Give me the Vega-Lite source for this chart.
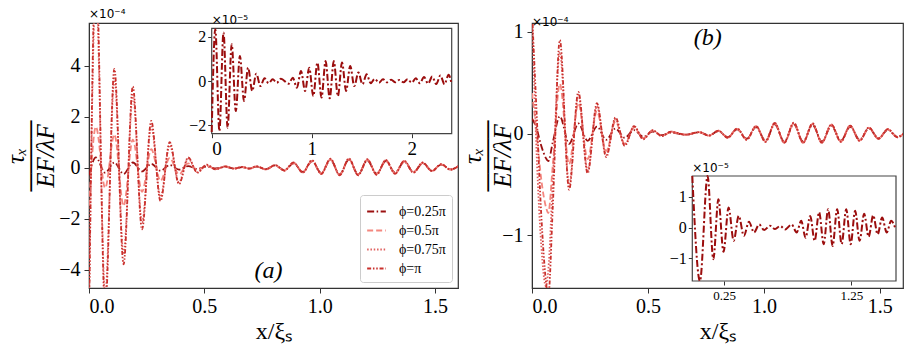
{
"$schema": "https://vega.github.io/schema/vega-lite/v6.json",
"background": "white",
"padding": {"left": 3, "top": 7, "right": 4, "bottom": 2},
"spacing": 74,
"bounds": "flush",
"datasets": {
"A": [
{"x":0,"a":-0.3,"b":-1.5,"c":-5.5,"d":-6},
{"x":0.03,"a":0.4,"b":1.6,"c":7,"d":8},
{"x":0.07,"a":-0.2,"b":-0.8,"c":-5,"d":-5.6},
{"x":0.11,"a":0.2,"b":1.3,"c":3.5,"d":3.87},
{"x":0.15,"a":-0.25,"b":-1.5,"c":-3.4,"d":-3.79},
{"x":0.19,"a":0.2,"b":1.1,"c":2.85,"d":3.18},
{"x":0.23,"a":-0.15,"b":-0.95,"c":-2.15,"d":-2.42},
{"x":0.27,"a":0.15,"b":0.72,"c":1.6,"d":1.83},
{"x":0.31,"a":-0.12,"b":-0.52,"c":-1.15,"d":-1.31},
{"x":0.35,"a":0.1,"b":0.38,"c":0.88,"d":1.0},
{"x":0.39,"a":-0.08,"b":-0.27,"c":-0.57,"d":-0.65},
{"x":0.43,"a":0.06,"b":0.17,"c":0.35,"d":0.4},
{"x":0.47,"a":-0.05,"b":-0.1,"c":-0.18,"d":-0.2},
{"x":0.51,"a":0.04,"b":0.07,"c":0.1,"d":0.12},
{"x":0.55,"a":-0.03,"b":-0.05,"c":-0.06,"d":-0.07},
{"x":0.59,"a":0.03,"b":0.04,"c":0.05,"d":0.05},
{"x":0.63,"a":-0.03,"b":-0.03,"c":-0.04,"d":-0.04},
{"x":0.665,"a":0.02,"b":0.025,"c":0.03,"d":0.03},
{"x":0.695,"a":-0.03,"b":-0.035,"c":-0.04,"d":-0.04},
{"x":0.727,"a":0.04,"b":0.045,"c":0.05,"d":0.05},
{"x":0.767,"a":-0.06,"b":-0.065,"c":-0.07,"d":-0.07},
{"x":0.807,"a":0.085,"b":0.09,"c":0.1,"d":0.1},
{"x":0.847,"a":-0.1,"b":-0.11,"c":-0.12,"d":-0.12},
{"x":0.887,"a":0.17,"b":0.18,"c":0.19,"d":0.2},
{"x":0.927,"a":-0.17,"b":-0.18,"c":-0.19,"d":-0.2},
{"x":0.967,"a":0.25,"b":0.26,"c":0.28,"d":0.29},
{"x":1.007,"a":-0.21,"b":-0.23,"c":-0.24,"d":-0.25},
{"x":1.047,"a":0.3,"b":0.32,"c":0.33,"d":0.35},
{"x":1.087,"a":-0.26,"b":-0.27,"c":-0.29,"d":-0.3},
{"x":1.127,"a":0.31,"b":0.32,"c":0.34,"d":0.36},
{"x":1.167,"a":-0.26,"b":-0.27,"c":-0.29,"d":-0.3},
{"x":1.207,"a":0.28,"b":0.3,"c":0.31,"d":0.33},
{"x":1.247,"a":-0.24,"b":-0.25,"c":-0.27,"d":-0.28},
{"x":1.287,"a":0.26,"b":0.27,"c":0.29,"d":0.3},
{"x":1.327,"a":-0.2,"b":-0.22,"c":-0.23,"d":-0.24},
{"x":1.367,"a":0.23,"b":0.24,"c":0.26,"d":0.27},
{"x":1.407,"a":-0.17,"b":-0.18,"c":-0.19,"d":-0.2},
{"x":1.447,"a":0.17,"b":0.18,"c":0.19,"d":0.2},
{"x":1.487,"a":-0.12,"b":-0.13,"c":-0.13,"d":-0.14},
{"x":1.527,"a":0.12,"b":0.13,"c":0.13,"d":0.14},
{"x":1.567,"a":-0.07,"b":-0.07,"c":-0.08,"d":-0.08},
{"x":1.607,"a":0.09,"b":0.09,"c":0.1,"d":0.1}
],
"B": [
{"x":0,"a":0.15,"b":0.4,"c":1.2,"d":1.2},
{"x":0.02,"a":0.05,"b":0,"c":-0.2,"d":0.2},
{"x":0.04,"a":-0.12,"b":-0.45,"c":-1.1,"d":-0.8},
{"x":0.06,"a":-0.24,"b":-0.72,"c":-1.5,"d":-1.45},
{"x":0.07,"a":-0.27,"b":-0.78,"c":-1.35,"d":-1.6},
{"x":0.09,"a":-0.08,"b":-0.3,"c":-0.45,"d":-0.7},
{"x":0.12,"a":0.17,"b":0.49,"c":0.8,"d":0.92},
{"x":0.16,"a":-0.1,"b":-0.3,"c":-0.5,"d":-0.55},
{"x":0.2,"a":0.1,"b":0.3,"c":0.38,"d":0.41},
{"x":0.24,"a":-0.07,"b":-0.25,"c":-0.36,"d":-0.39},
{"x":0.28,"a":0.07,"b":0.22,"c":0.27,"d":0.3},
{"x":0.32,"a":-0.06,"b":-0.17,"c":-0.21,"d":-0.23},
{"x":0.36,"a":0.05,"b":0.12,"c":0.14,"d":0.16},
{"x":0.4,"a":-0.04,"b":-0.1,"c":-0.11,"d":-0.12},
{"x":0.44,"a":0.035,"b":0.06,"c":0.07,"d":0.075},
{"x":0.48,"a":-0.03,"b":-0.045,"c":-0.05,"d":-0.055},
{"x":0.52,"a":0.02,"b":0.03,"c":0.03,"d":0.035},
{"x":0.56,"a":-0.015,"b":-0.02,"c":-0.02,"d":-0.025},
{"x":0.6,"a":0.01,"b":0.015,"c":0.02,"d":0.02},
{"x":0.66,"a":-0.01,"b":-0.01,"c":-0.01,"d":-0.01},
{"x":0.723,"a":0.013,"b":0.014,"c":0.015,"d":0.015},
{"x":0.763,"a":-0.017,"b":-0.019,"c":-0.02,"d":-0.02},
{"x":0.804,"a":0.025,"b":0.028,"c":0.03,"d":0.03},
{"x":0.844,"a":-0.034,"b":-0.038,"c":-0.04,"d":-0.04},
{"x":0.885,"a":0.042,"b":0.048,"c":0.05,"d":0.05},
{"x":0.926,"a":-0.05,"b":-0.057,"c":-0.06,"d":-0.06},
{"x":0.966,"a":0.065,"b":0.072,"c":0.076,"d":0.076},
{"x":1.007,"a":-0.068,"b":-0.076,"c":-0.08,"d":-0.08},
{"x":1.047,"a":0.09,"b":0.1,"c":0.105,"d":0.105},
{"x":1.088,"a":-0.077,"b":-0.086,"c":-0.09,"d":-0.09},
{"x":1.129,"a":0.092,"b":0.103,"c":0.108,"d":0.108},
{"x":1.169,"a":-0.077,"b":-0.086,"c":-0.09,"d":-0.09},
{"x":1.21,"a":0.085,"b":0.095,"c":0.1,"d":0.1},
{"x":1.25,"a":-0.077,"b":-0.086,"c":-0.09,"d":-0.09},
{"x":1.291,"a":0.077,"b":0.086,"c":0.09,"d":0.09},
{"x":1.332,"a":-0.068,"b":-0.076,"c":-0.08,"d":-0.08},
{"x":1.372,"a":0.068,"b":0.076,"c":0.08,"d":0.08},
{"x":1.413,"a":-0.06,"b":-0.067,"c":-0.07,"d":-0.07},
{"x":1.453,"a":0.051,"b":0.057,"c":0.06,"d":0.06},
{"x":1.494,"a":-0.043,"b":-0.048,"c":-0.05,"d":-0.05},
{"x":1.535,"a":0.038,"b":0.043,"c":0.045,"d":0.045},
{"x":1.575,"a":-0.03,"b":-0.033,"c":-0.035,"d":-0.035},
{"x":1.616,"a":0.026,"b":0.029,"c":0.03,"d":0.03}
],
"IA": [
{"x":0,"v":-2.3},{"x":0.036,"v":2.34},{"x":0.077,"v":-2.26},{"x":0.118,"v":2.19},{"x":0.159,"v":-2.11},{"x":0.2,"v":1.66},{"x":0.241,"v":-1.36},{"x":0.282,"v":1.13},{"x":0.323,"v":-0.9},{"x":0.364,"v":0.6},{"x":0.405,"v":-0.45},{"x":0.446,"v":0.33},{"x":0.487,"v":-0.23},{"x":0.528,"v":0.12},{"x":0.569,"v":-0.1},{"x":0.61,"v":0.08},{"x":0.651,"v":-0.08},{"x":0.692,"v":0.1},{"x":0.77,"v":-0.12},{"x":0.811,"v":0.15},{"x":0.852,"v":-0.3},{"x":0.893,"v":0.45},{"x":0.934,"v":-0.45},{"x":0.975,"v":0.6},{"x":1.016,"v":-0.68},{"x":1.057,"v":0.83},{"x":1.098,"v":-0.75},{"x":1.139,"v":0.9},{"x":1.18,"v":-0.78},{"x":1.221,"v":0.9},{"x":1.262,"v":-0.68},{"x":1.303,"v":0.83},{"x":1.344,"v":-0.45},{"x":1.385,"v":0.68},{"x":1.426,"v":-0.23},{"x":1.467,"v":0.38},{"x":1.508,"v":-0.15},{"x":1.549,"v":0.3},{"x":1.59,"v":-0.1},{"x":1.631,"v":0.1},{"x":1.672,"v":-0.08},{"x":1.713,"v":0.08},{"x":1.754,"v":-0.06},{"x":1.795,"v":0.06},{"x":1.836,"v":-0.06},{"x":1.877,"v":0.05},{"x":1.918,"v":-0.06},{"x":1.959,"v":0.08},{"x":2.0,"v":-0.08},{"x":2.041,"v":0.12},{"x":2.082,"v":-0.1},{"x":2.123,"v":0.18},{"x":2.164,"v":-0.12},{"x":2.205,"v":0.2},{"x":2.246,"v":-0.14},{"x":2.287,"v":0.25},{"x":2.328,"v":-0.15},{"x":2.369,"v":0.28},{"x":2.41,"v":-0.15}
],
"IB": [
{"x":0,"v":1.9},{"x":0.06,"v":-2.2},{"x":0.12,"v":2.2},{"x":0.165,"v":-1.03},{"x":0.205,"v":0.92},{"x":0.245,"v":-0.79},{"x":0.285,"v":0.65},{"x":0.325,"v":-0.43},{"x":0.365,"v":0.38},{"x":0.405,"v":-0.27},{"x":0.445,"v":0.19},{"x":0.485,"v":-0.16},{"x":0.525,"v":0.1},{"x":0.565,"v":-0.08},{"x":0.61,"v":0.06},{"x":0.65,"v":-0.05},{"x":0.69,"v":0.05},{"x":0.73,"v":-0.06},{"x":0.78,"v":0.1},{"x":0.82,"v":-0.16},{"x":0.855,"v":0.22},{"x":0.89,"v":-0.33},{"x":0.926,"v":0.38},{"x":0.961,"v":-0.43},{"x":0.996,"v":0.5},{"x":1.032,"v":-0.54},{"x":1.067,"v":0.6},{"x":1.102,"v":-0.6},{"x":1.138,"v":0.6},{"x":1.173,"v":-0.54},{"x":1.209,"v":0.6},{"x":1.244,"v":-0.54},{"x":1.279,"v":0.55},{"x":1.314,"v":-0.43},{"x":1.35,"v":0.45},{"x":1.385,"v":-0.3},{"x":1.421,"v":0.4},{"x":1.456,"v":-0.22},{"x":1.491,"v":0.33},{"x":1.527,"v":-0.16},{"x":1.562,"v":0.22},{"x":1.597,"v":-0.05}
]
},
"hconcat": [
{
"width": 369, "height": 265,
"title": {"text": "×10⁻⁴", "anchor": "start", "font": "DejaVu Sans", "fontSize": 12, "fontWeight": "normal", "offset": -7, "frame": "group"},
"layer": [
{"layer": [
{"data": {"name": "A"},
"transform": [{"fold": ["a","b","c","d"], "as": ["k","v"]}],
"mark": {"type": "line", "interpolate": "monotone", "clip": true, "strokeWidth": 1.8},
"encoding": {
"x": {"field": "x", "type": "quantitative", "scale": {"domain": [0,1.6], "nice": false, "zero": false}, "axis": {"values": [0,0.5,1,1.5], "format": ".1f", "title": "x/ξₛ", "titleFontSize": 24, "titlePadding": 3, "labelPadding": 3}},
"y": {"field": "v", "type": "quantitative", "scale": {"domain": [-4.72,5.67], "nice": false, "zero": false}, "axis": {"values": [-4,-2,0,2,4], "format": "d", "title": ["τₓ","────","EF/λF"], "titleFontSize": 25, "titleLineHeight": 15, "titleFontStyle": "italic", "titlePadding": 0, "labelPadding": 4}},
"color": {"field": "k", "type": "nominal", "scale": {"domain": ["a","b","c","d"], "range": ["#9b1010","#f4877f","#e0605f","#c9302c"]},
 "legend": {"orient": "bottom-right", "offset": 6, "title": null, "fillColor": "white", "strokeColor": "#cccccc", "cornerRadius": 3, "padding": 6, "symbolType": "stroke", "symbolSize": 350, "symbolStrokeWidth": 1.8, "labelFont": "Liberation Serif", "labelFontSize": 14, "rowPadding": 1, "labelOffset": 12, "labelExpr": "{'a':'ϕ=0.25π','b':'ϕ=0.5π','c':'ϕ=0.75π','d':'ϕ=π'}[datum.label]"}},
"strokeDash": {"field": "k", "type": "nominal", "scale": {"domain": ["a","b","c","d"], "range": [[7,2.5,1.5,2.5],[6,3],[1.5,1.8],[4,1.8,1.5,1.8,1.5,1.8]]},
 "legend": {"orient": "bottom-right", "offset": 6, "title": null, "fillColor": "white", "strokeColor": "#cccccc", "cornerRadius": 3, "padding": 6, "symbolType": "stroke", "symbolSize": 350, "symbolStrokeWidth": 1.8, "labelFont": "Liberation Serif", "labelFontSize": 14, "rowPadding": 1, "labelOffset": 12, "labelExpr": "{'a':'ϕ=0.25π','b':'ϕ=0.5π','c':'ϕ=0.75π','d':'ϕ=π'}[datum.label]"}}
}},
{"data": {"values": [{}]}, "mark": {"type": "text", "font": "Liberation Serif", "fontStyle": "italic", "fontSize": 24},
"encoding": {"x": {"datum": 0.778}, "y": {"datum": -4.05}, "text": {"value": "(a)"}}}
]},
{"layer": [
{"data": {"values": [{}]}, "mark": {"type": "rect", "fill": "white", "stroke": "#444444", "strokeWidth": 1.2},
"encoding": {
"x": {"datum": 0, "type": "quantitative", "scale": {"domain": [0,2.4], "range": [122.7,362.7], "nice": false, "zero": false, "clamp": true}, "axis": {"orient": "bottom", "offset": -154.3, "values": [0,1,2], "format": "d", "title": null, "domain": false, "tickSize": 4, "labelPadding": 2, "labelFontSize": 19}},
"x2": {"datum": 2.4},
"y": {"datum": -2.38, "type": "quantitative", "scale": {"domain": [-2.38,2.38], "range": [110.7,5.3], "nice": false, "zero": false, "clamp": true}, "axis": {"orient": "left", "offset": -122.7, "values": [-2,0,2], "format": "d", "title": null, "domain": false, "tickSize": 4, "labelPadding": 2, "labelFontSize": 16}},
"y2": {"datum": 2.38}}},
{"data": {"name": "IA"}, "mark": {"type": "line", "interpolate": "monotone", "color": "#9b0d0d", "strokeWidth": 2, "strokeDash": [7,2.5,2,2.5]},
"encoding": {
"x": {"field": "x", "type": "quantitative", "scale": {"domain": [0,2.4], "range": [122.7,362.7], "nice": false, "zero": false, "clamp": true}, "axis": {"orient": "bottom", "offset": -154.3, "values": [0,1,2], "format": "d", "title": null, "domain": false, "tickSize": 4, "labelPadding": 2, "labelFontSize": 19}},
"y": {"field": "v", "type": "quantitative", "scale": {"domain": [-2.38,2.38], "range": [110.7,5.3], "nice": false, "zero": false, "clamp": true}, "axis": {"orient": "left", "offset": -122.7, "values": [-2,0,2], "format": "d", "title": null, "domain": false, "tickSize": 4, "labelPadding": 2, "labelFontSize": 16}}
}},
{"data": {"values": [{}]}, "mark": {"type": "text", "font": "DejaVu Sans", "fontSize": 12, "align": "left", "baseline": "bottom", "dy": -1},
"encoding": {
"x": {"datum": 0, "type": "quantitative", "scale": {"domain": [0,2.4], "range": [122.7,362.7], "nice": false, "zero": false, "clamp": true}, "axis": {"orient": "bottom", "offset": -154.3, "values": [0,1,2], "format": "d", "title": null, "domain": false, "tickSize": 4, "labelPadding": 2, "labelFontSize": 19}},
"y": {"datum": 2.38, "type": "quantitative", "scale": {"domain": [-2.38,2.38], "range": [110.7,5.3], "nice": false, "zero": false, "clamp": true}, "axis": {"orient": "left", "offset": -122.7, "values": [-2,0,2], "format": "d", "title": null, "domain": false, "tickSize": 4, "labelPadding": 2, "labelFontSize": 16}},
"text": {"value": "×10⁻⁵"}}}
]}
],
"resolve": {"scale": {"x": "independent", "y": "independent"}, "axis": {"x": "independent", "y": "independent"}}
},
{
"width": 371, "height": 265,
"title": {"text": "×10⁻⁴", "anchor": "start", "font": "DejaVu Sans", "fontSize": 12, "fontWeight": "normal", "offset": -7, "frame": "group"},
"layer": [
{"layer": [
{"data": {"name": "B"},
"transform": [{"fold": ["a","b","c","d"], "as": ["k","v"]}],
"mark": {"type": "line", "interpolate": "monotone", "clip": true, "strokeWidth": 1.8},
"encoding": {
"x": {"field": "x", "type": "quantitative", "scale": {"domain": [0,1.6], "nice": false, "zero": false}, "axis": {"values": [0,0.5,1,1.5], "format": ".1f", "title": "x/ξₛ", "titleFontSize": 24, "titlePadding": 3, "labelPadding": 3}},
"y": {"field": "v", "type": "quantitative", "scale": {"domain": [-1.517,1.088], "nice": false, "zero": false}, "axis": {"values": [-1,0,1], "format": "d", "title": ["τₓ","────","EF/λF"], "titleFontSize": 25, "titleLineHeight": 15, "titleFontStyle": "italic", "titlePadding": -14, "labelPadding": 4}},
"color": {"field": "k", "type": "nominal", "scale": {"domain": ["a","b","c","d"], "range": ["#9b1010","#f4877f","#e0605f","#c9302c"]}, "legend": null},
"strokeDash": {"field": "k", "type": "nominal", "scale": {"domain": ["a","b","c","d"], "range": [[7,2.5,1.5,2.5],[6,3],[1.5,1.8],[4,1.8,1.5,1.8,1.5,1.8]]}, "legend": null}
}},
{"data": {"values": [{}]}, "mark": {"type": "text", "font": "Liberation Serif", "fontStyle": "italic", "fontSize": 24},
"encoding": {"x": {"datum": 0.758}, "y": {"datum": 0.936}, "text": {"value": "(b)"}}}
]},
{"layer": [
{"data": {"values": [{}]}, "mark": {"type": "rect", "fill": "white", "stroke": "#444444", "strokeWidth": 1.2},
"encoding": {
"x": {"datum": 0, "type": "quantitative", "scale": {"domain": [0,1.6], "range": [160.3,364], "nice": false, "zero": false, "clamp": true}, "axis": {"orient": "bottom", "offset": -7, "values": [0.25,1.25], "format": ".2f", "title": null, "domain": false, "tickSize": 4, "labelPadding": 4, "labelFontSize": 13}},
"x2": {"datum": 1.6},
"y": {"datum": -1.74, "type": "quantitative", "scale": {"domain": [-1.74,1.68], "range": [258,153], "nice": false, "zero": false, "clamp": true}, "axis": {"orient": "left", "offset": -160.3, "values": [-1,0,1], "format": "d", "title": null, "domain": false, "tickSize": 4, "labelPadding": 2, "labelFontSize": 16}},
"y2": {"datum": 1.68}}},
{"data": {"name": "IB"}, "mark": {"type": "line", "interpolate": "monotone", "color": "#9b0d0d", "strokeWidth": 2, "strokeDash": [7,2.5,2,2.5]},
"encoding": {
"x": {"field": "x", "type": "quantitative", "scale": {"domain": [0,1.6], "range": [160.3,364], "nice": false, "zero": false, "clamp": true}, "axis": {"orient": "bottom", "offset": -7, "values": [0.25,1.25], "format": ".2f", "title": null, "domain": false, "tickSize": 4, "labelPadding": 4, "labelFontSize": 13}},
"y": {"field": "v", "type": "quantitative", "scale": {"domain": [-1.74,1.68], "range": [258,153], "nice": false, "zero": false, "clamp": true}, "axis": {"orient": "left", "offset": -160.3, "values": [-1,0,1], "format": "d", "title": null, "domain": false, "tickSize": 4, "labelPadding": 2, "labelFontSize": 16}}
}},
{"data": {"values": [{}]}, "mark": {"type": "text", "font": "DejaVu Sans", "fontSize": 12, "align": "left", "baseline": "bottom", "dy": -1},
"encoding": {
"x": {"datum": 0, "type": "quantitative", "scale": {"domain": [0,1.6], "range": [160.3,364], "nice": false, "zero": false, "clamp": true}, "axis": {"orient": "bottom", "offset": -7, "values": [0.25,1.25], "format": ".2f", "title": null, "domain": false, "tickSize": 4, "labelPadding": 4, "labelFontSize": 13}},
"y": {"datum": 1.68, "type": "quantitative", "scale": {"domain": [-1.74,1.68], "range": [258,153], "nice": false, "zero": false, "clamp": true}, "axis": {"orient": "left", "offset": -160.3, "values": [-1,0,1], "format": "d", "title": null, "domain": false, "tickSize": 4, "labelPadding": 2, "labelFontSize": 16}},
"text": {"value": "×10⁻⁵"}}}
]}
],
"resolve": {"scale": {"x": "independent", "y": "independent"}, "axis": {"x": "independent", "y": "independent"}}
}
],
"resolve": {"scale": {"color": "independent", "strokeDash": "independent"}},
"config": {
"font": "Liberation Serif",
"view": {"stroke": "#333333", "strokeWidth": 1.2},
"axis": {"labelFont": "Liberation Serif", "titleFont": "Liberation Serif", "labelColor": "black", "titleColor": "black", "tickColor": "#333333", "domainColor": "#333333", "grid": false, "titleFontWeight": "normal", "labelFontSize": 20, "tickSize": 5}
}
}
